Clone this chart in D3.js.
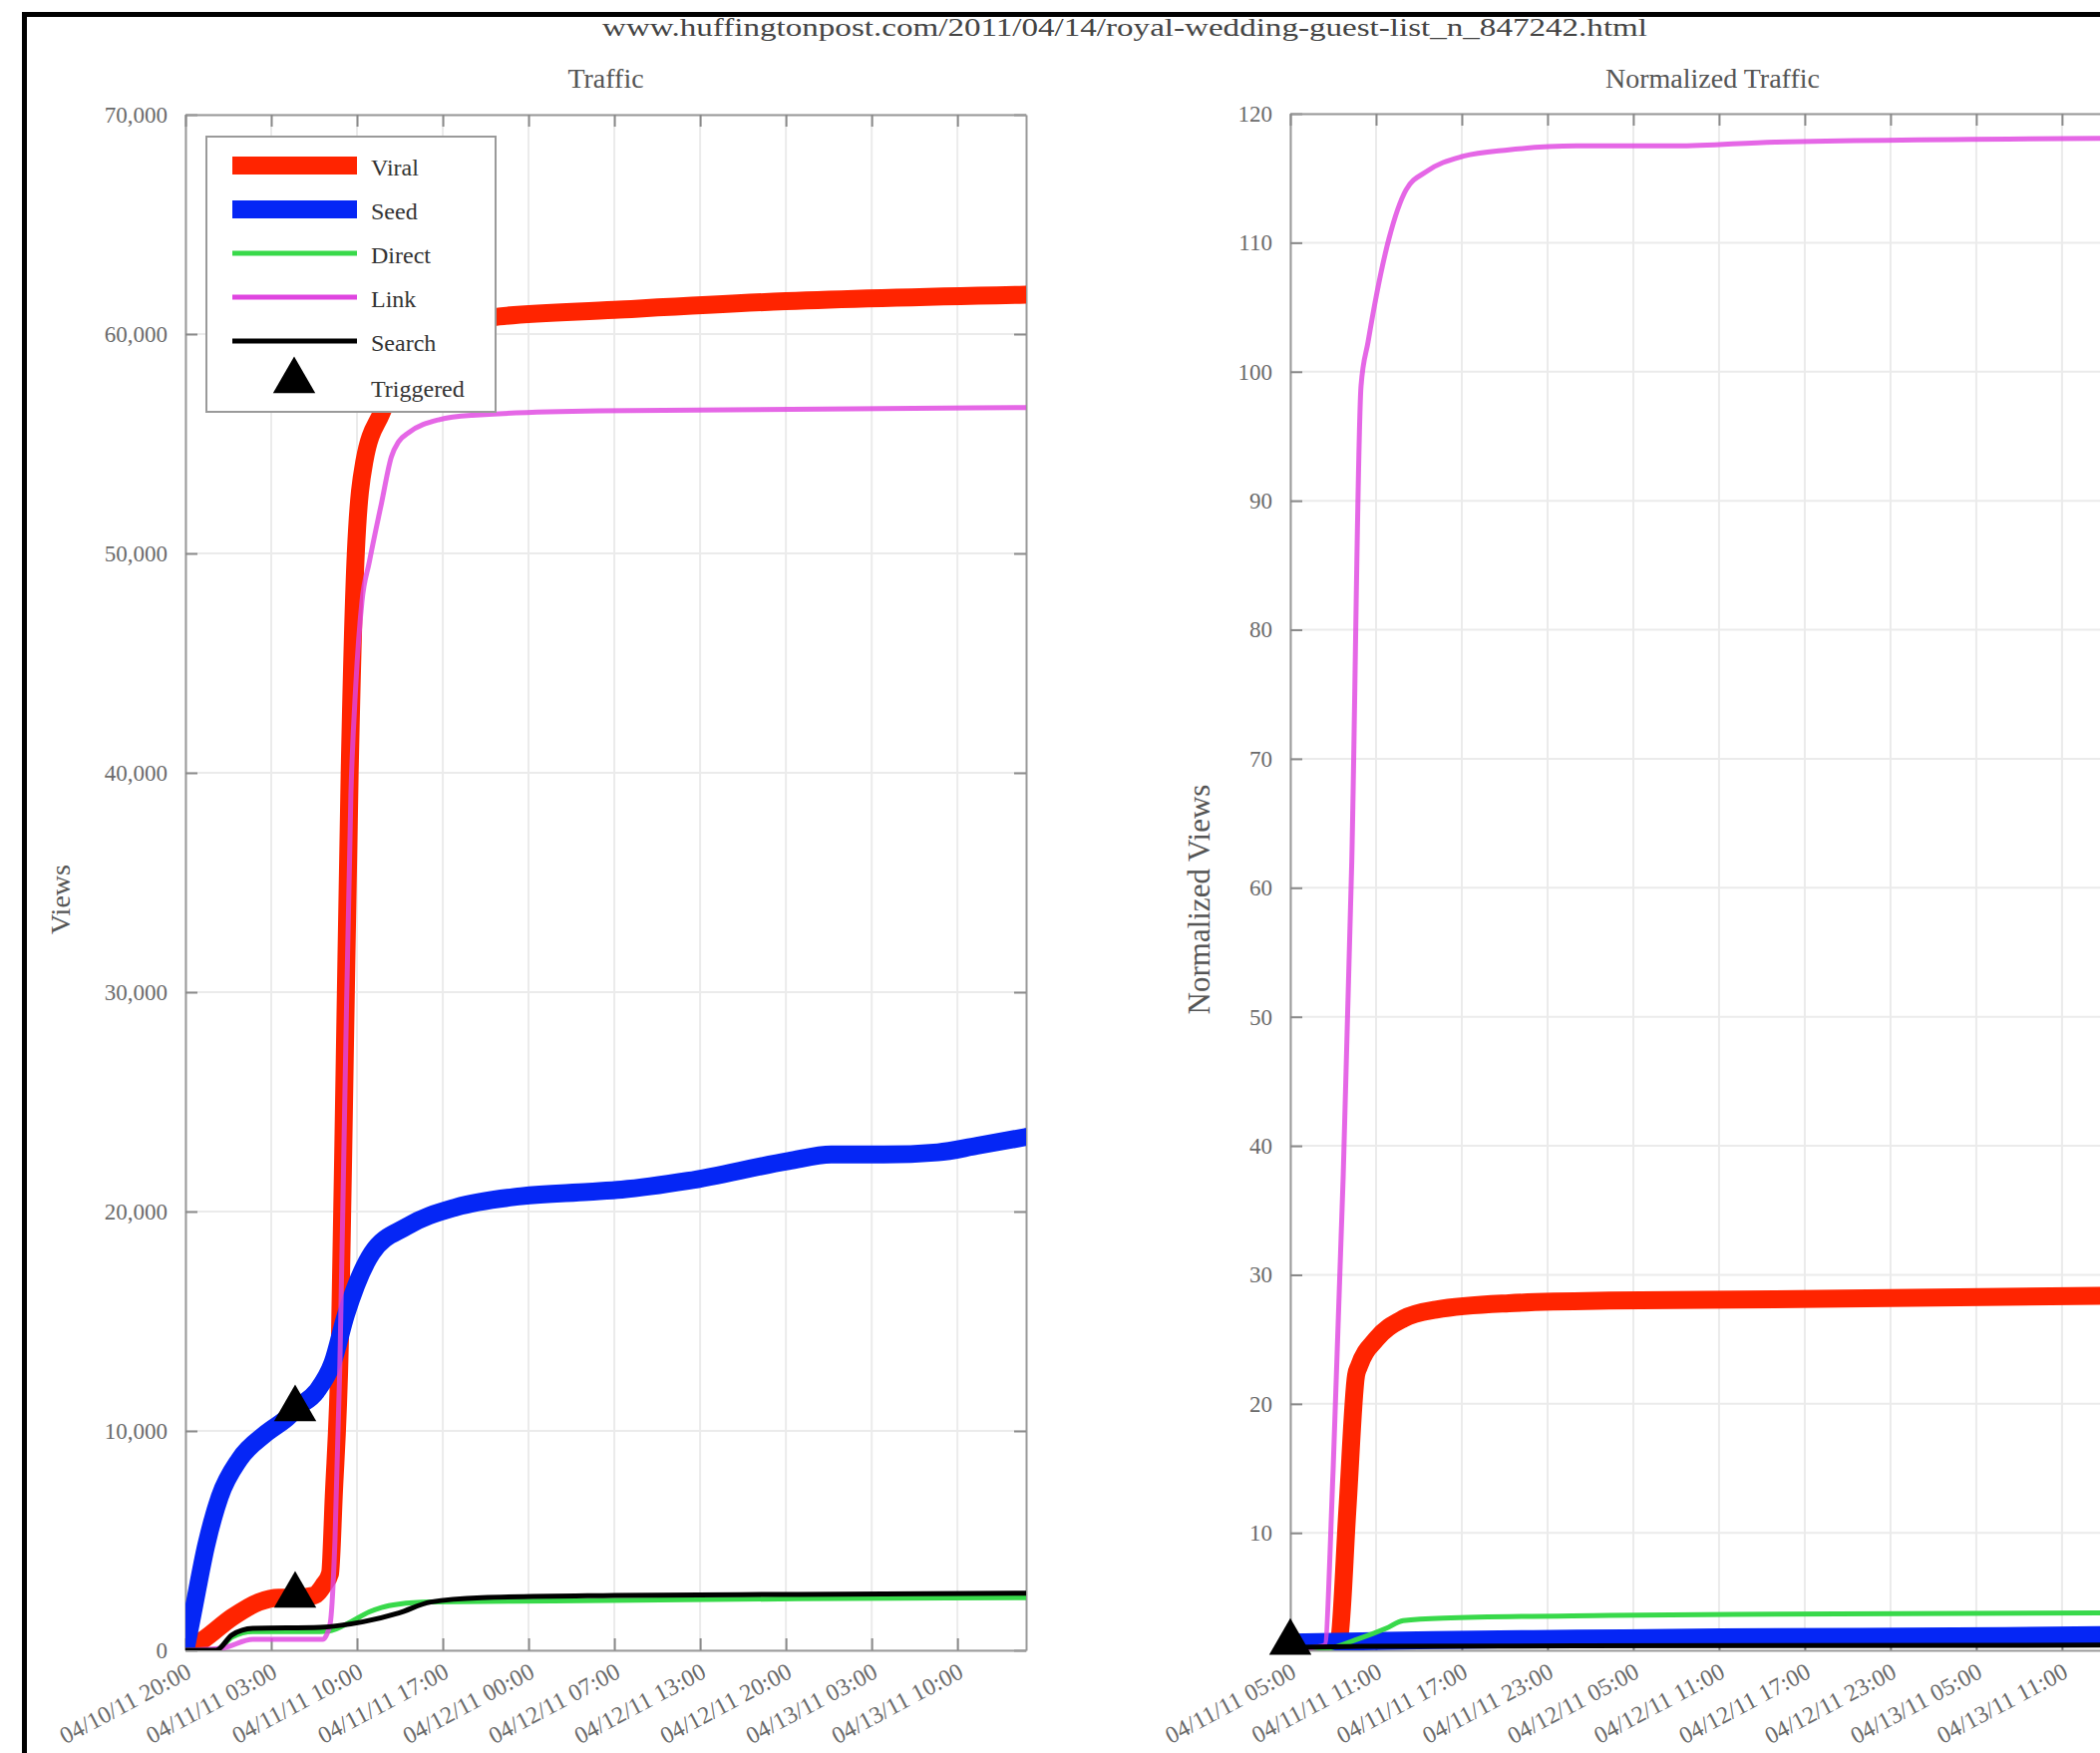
<!DOCTYPE html>
<html><head><meta charset="utf-8">
<script src="https://cdn.jsdelivr.net/npm/d3@7"></script>
<style>
body{margin:0;background:#fff;overflow:hidden}
svg{display:block}
text{font-family:"Liberation Serif","DejaVu Serif",serif}
</style>
</head><body>
<svg id="c" width="2106" height="1758"></svg>
<script>
// ---------------- DATA ----------------
const pageTitle = "www.huffingtonpost.com/2011/04/14/royal-wedding-guest-list_n_847242.html";
const leftTitle = "Traffic";
const rightTitle = "Normalized Traffic";
const leftYLabel = "Views";
const rightYLabel = "Normalized Views";
const seriesNames = ["Viral", "Seed", "Direct", "Link", "Search"];
const triggeredName = "Triggered";

// hours since 04/10/11 20:00
const leftTickHours = [0, 7, 14, 21, 28, 35, 42, 49, 56, 63];
const leftTickLabels = ["04/10/11 20:00", "04/11/11 03:00", "04/11/11 10:00", "04/11/11 17:00",
  "04/12/11 00:00", "04/12/11 07:00", "04/12/11 13:00", "04/12/11 20:00", "04/13/11 03:00", "04/13/11 10:00"];
const leftYTicks = [0, 10000, 20000, 30000, 40000, 50000, 60000, 70000];

// hours since 04/11/11 05:00
const rightTickHours = [0, 6, 12, 18, 24, 30, 36, 42, 48, 54];
const rightTickLabels = ["04/11/11 05:00", "04/11/11 11:00", "04/11/11 17:00", "04/11/11 23:00",
  "04/12/11 05:00", "04/12/11 11:00", "04/12/11 17:00", "04/12/11 23:00", "04/13/11 05:00", "04/13/11 11:00"];
const rightYTicks = [10, 20, 30, 40, 50, 60, 70, 80, 90, 100, 110, 120];

// Left panel: [hour, views]
const viralLeft = [[0,0],[1.5,500],[3.8,1500],[6,2200],[7.6,2400],[9,2400],[10.5,2500],[11.3,3000],[11.8,3500],
  [12.1,7000],[12.6,14000],[13.0,27000],[13.4,40000],[13.9,50000],[14.6,54200],[16,56400],[18,58600],[20,59700],
  [23,60400],[25.6,60800],[35,61100],[49,61500],[68.6,61800]];
const seedLeft = [[0,0],[0.6,1700],[1.7,4800],[2.8,7000],[4.4,8700],[6.6,9900],[8.5,10700],[9.0,11000],[10.7,11800],
  [12.0,13100],[13.1,15300],[15.2,18100],[18.0,19300],[22.1,20200],[27.4,20700],[32.9,20900],[35.6,21000],[41,21400],
  [49.2,22300],[52.7,22600],[57,22600],[61.4,22700],[64.6,23000],[68.6,23400]];
const directLeft = [[0,0],[2.5,0],[3.8,600],[5.5,850],[11,850],[11.7,870],[13.5,1300],[15,1750],[16,1950],[17.4,2100],
  [20,2200],[30,2250],[50,2350],[68.6,2400]];
const linkLeft = [[0,0],[3,100],[5.5,500],[11.2,500],[11.8,1200],[12.2,5000],[12.6,13000],[13.0,25000],[13.5,39000],
  [13.9,44000],[14.4,47800],[15.0,49600],[16.0,52300],[16.8,54400],[17.4,55100],[18.2,55500],[20.7,56100],[23.4,56300],
  [33.7,56500],[68.6,56650]];
const searchLeft = [[0,0],[2.5,0],[3.8,700],[5.5,1000],[11,1050],[14.5,1300],[17.4,1700],[20,2200],[24.2,2400],
  [35,2500],[50,2550],[68.6,2600]];
const triggeredLeft = [[8.95,11000],[8.95,2500]];

// Right panel: [hour, normalized views]
const viralRight = [[0,1.2],[3.2,1.3],[3.4,1.6],[4.0,11.9],[4.6,22.2],[4.8,22.9],[6.0,25.0],[7.9,26.6],[10.2,27.3],
  [15.3,27.8],[22.3,28.0],[33.9,28.1],[59.1,28.4]];
const seedRight = [[0,1.5],[5,1.6],[10,1.7],[20,1.8],[30,1.9],[40,1.95],[50,2.0],[59.1,2.1]];
const directRight = [[0,1.0],[2.5,1.05],[4.8,1.8],[6.7,2.6],[7.9,3.2],[10.7,3.4],[22.3,3.6],[33.9,3.7],[59.1,3.8]];
const linkRight = [[0,1.0],[1.5,1.1],[2.4,1.3],[3.0,15],[3.7,37.6],[4.3,62],[4.95,98.9],[5.44,102.3],[6.9,110.3],
  [8.1,114.1],[9.5,115.5],[12.1,116.7],[15.3,117.2],[20,117.5],[27,117.5],[34,117.8],[59.1,118.1]];
const searchRight = [[0,1.1],[5,1.2],[20,1.25],[59.1,1.3]];
const triggeredRight = [[0,1.5]];

// ---------------- STYLE ----------------
const colors = {Viral:"#ff2400", Seed:"#0526f5", Direct:"#38d94a", Link:"#df45e0", Search:"#000000"};
const widths = {Viral:18, Seed:18, Direct:5, Link:5, Search:5};
const opac = {Viral:1, Seed:1, Direct:1, Link:0.82, Search:1};

const svg = d3.select("#c");
svg.append("rect").attr("width",2106).attr("height",1758).attr("fill","#fff");

// frame (screenshot border)
svg.append("rect").attr("x",22).attr("y",12).attr("width",2106).attr("height",5).attr("fill","#000");
svg.append("rect").attr("x",22).attr("y",12).attr("width",5).attr("height",1758).attr("fill","#000");

svg.append("text").attr("x",1128).attr("y",27).attr("text-anchor","middle").attr("dominant-baseline","central")
  .attr("font-size",26).attr("fill","#444").attr("textLength",1048).attr("lengthAdjust","spacingAndGlyphs")
  .text(pageTitle);

function panel(cfg){
  const g = svg.append("g");
  const x = d3.scaleLinear().domain(cfg.xDomain).range([cfg.x0, cfg.x1]);
  const y = d3.scaleLinear().domain(cfg.yDomain).range([cfg.y1, cfg.y0]);
  const clipId = "clip" + cfg.id;
  svg.append("clipPath").attr("id", clipId).append("rect")
    .attr("x", cfg.x0).attr("y", cfg.y0).attr("width", cfg.x1 - cfg.x0).attr("height", cfg.y1 - cfg.y0);

  // grid
  const grid = g.append("g").attr("stroke","#ebebeb").attr("stroke-width",2);
  cfg.xTicks.forEach(t => grid.append("line").attr("x1",x(t)).attr("x2",x(t)).attr("y1",cfg.y0).attr("y2",cfg.y1));
  cfg.yTicks.forEach(t => grid.append("line").attr("y1",y(t)).attr("y2",y(t)).attr("x1",cfg.x0).attr("x2",cfg.x1));

  // axes
  const styleAxis = sel => {
    sel.selectAll(".domain").attr("stroke","#9a9a9a").attr("stroke-width",2);
    sel.selectAll(".tick line").attr("stroke","#8a8a8a").attr("stroke-width",2);
    sel.selectAll("text").attr("font-family",'"Liberation Serif","DejaVu Serif",serif').attr("fill","#6a6a6a");
  };
  const ax = g.append("g").attr("transform",`translate(${cfg.x0},0)`)
    .call(d3.axisLeft(y).tickValues(cfg.yTicks).tickSize(-12).tickSizeOuter(0).tickPadding(18).tickFormat(cfg.yFormat));
  ax.selectAll("text").attr("font-size",23);
  styleAxis(ax);
  const axr = g.append("g").attr("transform",`translate(${cfg.x1},0)`)
    .call(d3.axisRight(y).tickValues(cfg.yTicks).tickSize(-12).tickSizeOuter(0).tickFormat(""));
  styleAxis(axr);
  const axt = g.append("g").attr("transform",`translate(0,${cfg.y0})`)
    .call(d3.axisTop(x).tickValues(cfg.xTicks).tickSize(-12).tickSizeOuter(0).tickFormat(""));
  styleAxis(axt);
  const axb = g.append("g").attr("transform",`translate(0,${cfg.y1})`)
    .call(d3.axisBottom(x).tickValues(cfg.xTicks).tickSize(-12).tickSizeOuter(0).tickFormat((d,i)=>cfg.xLabels[i]));
  axb.selectAll("text").attr("font-size",24).attr("text-anchor","end").attr("y",0).attr("dy","0.35em")
    .attr("transform","translate(3,19) rotate(-28)");
  styleAxis(axb);

  // titles
  g.append("text").attr("x",(cfg.x0+cfg.x1)/2).attr("y",78).attr("text-anchor","middle").attr("dominant-baseline","central")
    .attr("font-size",28).attr("fill","#555").text(cfg.title);
  g.append("text").attr("transform",`translate(${cfg.ylabX},902) rotate(-90)`).attr("text-anchor","middle")
    .attr("dominant-baseline","central").attr("font-size",cfg.ylabSize).attr("fill","#555").text(cfg.ylabel);

  // lines
  const line = d3.line().x(d=>x(d[0])).y(d=>y(d[1])).curve(d3.curveMonotoneX);
  const lg = g.append("g").attr("clip-path",`url(#${clipId})`);
  seriesNames.forEach((n,i) => {
    lg.append("path").datum(cfg.series[i]).attr("d",line).attr("fill","none")
      .attr("stroke",colors[n]).attr("stroke-width",widths[n]).attr("stroke-opacity",opac[n])
      .attr("stroke-linejoin","round").attr("stroke-linecap","round");
  });
  g.selectAll(".trig").data(cfg.triggered).join("path")
    .attr("transform", d=>`translate(${x(d[0])},${y(d[1])})`)
    .attr("d", d3.symbol(d3.symbolTriangle, 780)).attr("fill","#000");
  return g;
}

panel({id:"L", x0:186, x1:1029, y0:115, y1:1655, xDomain:[0,68.6], yDomain:[0,70000],
  xTicks:leftTickHours, xLabels:leftTickLabels, yTicks:leftYTicks, yFormat:d3.format(","),
  title:leftTitle, ylabel:leftYLabel, ylabX:60, ylabSize:28,
  series:[viralLeft, seedLeft, directLeft, linkLeft, searchLeft], triggered:triggeredLeft});

panel({id:"R", x0:1294, x1:2141, y0:114, y1:1655, xDomain:[0,59.1], yDomain:[0.9,120],
  xTicks:rightTickHours, xLabels:rightTickLabels, yTicks:rightYTicks, yFormat:d3.format("d"),
  title:rightTitle, ylabel:rightYLabel, ylabX:1202, ylabSize:31,
  series:[viralRight, seedRight, directRight, linkRight, searchRight], triggered:triggeredRight});

// legend
const leg = svg.append("g");
leg.append("rect").attr("x",207).attr("y",137).attr("width",290).attr("height",276)
  .attr("fill","#fff").attr("stroke","#9a9a9a").attr("stroke-width",2);
const legY = d3.scalePoint().domain([...seriesNames, triggeredName]).range([166, 386]);
seriesNames.forEach(n => {
  leg.append("line").attr("x1",233).attr("x2",358).attr("y1",legY(n)).attr("y2",legY(n))
    .attr("stroke",colors[n]).attr("stroke-width",widths[n]);
  leg.append("text").attr("x",372).attr("y",legY(n)+2).attr("dominant-baseline","central")
    .attr("font-size",24).attr("fill","#333").text(n);
});
leg.append("path").attr("transform",`translate(295,${legY(triggeredName)-4})`)
  .attr("d", d3.symbol(d3.symbolTriangle, 780)).attr("fill","#000");
leg.append("text").attr("x",372).attr("y",legY(triggeredName)+4).attr("dominant-baseline","central")
  .attr("font-size",24).attr("fill","#333").text(triggeredName);
</script>
</body></html>
